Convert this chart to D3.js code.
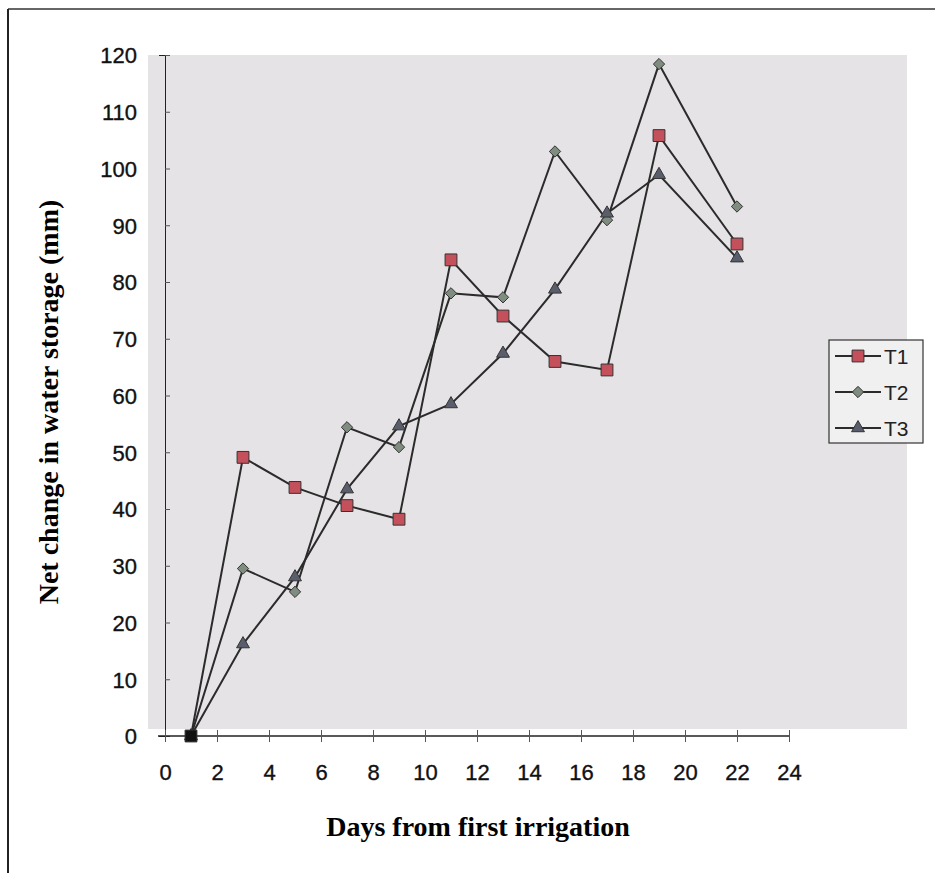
<!DOCTYPE html>
<html>
<head>
<meta charset="utf-8">
<script src="https://cdn.jsdelivr.net/npm/d3@7"></script>
<style>
  body { margin: 0; background: #fff; }
  .tick text { font-family: "Liberation Sans", Arial, sans-serif; font-size: 22px; fill: #111; stroke: #111; stroke-width: 0.35px; }
</style>
</head>
<body>
<div id="chart"></div>
<script>
// values
var days = [1, 3, 5, 7, 9, 11, 13, 15, 17, 19, 22];
var t1 = [0, 49.1, 43.8, 40.6, 38.2, 83.9, 74.0, 66.0, 64.5, 105.8, 86.7];
var t2 = [0, 29.5, 25.4, 54.4, 50.9, 78.0, 77.3, 103.0, 90.9, 118.4, 93.3];
var t3 = [0, 16.2, 28.0, 43.5, 54.6, 58.5, 67.4, 78.7, 92.1, 98.9, 84.2];
var seriesNames = ["T1", "T2", "T3"];
var xTicks = [0, 2, 4, 6, 8, 10, 12, 14, 16, 18, 20, 22, 24];
var yTicks = [0, 10, 20, 30, 40, 50, 60, 70, 80, 90, 100, 110, 120];

var W = 935, H = 873;

var svg = d3.select("#chart").append("svg")
    .attr("width", W)
    .attr("height", H);

// outer frame (only top and left edges show)
svg.append("line").attr("x1", 8).attr("x2", W).attr("y1", 9).attr("y2", 9)
    .attr("stroke", "#333").attr("stroke-width", 1.5);
svg.append("line").attr("x1", 8).attr("x2", 8).attr("y1", 9).attr("y2", H)
    .attr("stroke", "#222").attr("stroke-width", 2);

var x = d3.scaleLinear().domain([0, 24]).range([165, 789]);
var y = d3.scaleLinear().domain([0, 120]).range([736, 55]);

// plot area background
svg.append("rect")
    .attr("x", 148).attr("y", 55)
    .attr("width", 907 - 148).attr("height", 729 - 55)
    .attr("fill", "#e5e3e5");

// y axis
var yAxis = svg.append("g")
    .attr("transform", "translate(" + x(0) + ",0)")
    .call(d3.axisLeft(y).tickValues(yTicks).tickSize(6).tickPadding(22));
yAxis.selectAll(".tick line").attr("x2", 5).attr("stroke", "#555");
yAxis.select(".domain").attr("stroke", "#222");
yAxis.selectAll(".tick text").attr("dy", "0.36em");

// x axis
var xAxis = svg.append("g")
    .attr("transform", "translate(0," + y(0) + ")")
    .call(d3.axisBottom(x).tickValues(xTicks).tickSize(6).tickPadding(22));
xAxis.selectAll(".tick line").attr("y1", -6).attr("stroke", "#555");
xAxis.select(".domain").attr("d", "M" + (x(0) - 7) + ",0H" + x(24)).attr("stroke", "#222").attr("stroke-width", 1.5);

// axis titles
svg.append("text")
    .attr("x", 478).attr("y", 836)
    .attr("text-anchor", "middle")
    .style("font-family", "'Liberation Serif', 'Times New Roman', serif")
    .style("font-weight", "bold")
    .style("font-size", "28px")
    .text("Days from first irrigation");

svg.append("text")
    .attr("transform", "translate(58,402) rotate(-90)")
    .attr("text-anchor", "middle")
    .style("font-family", "'Liberation Serif', 'Times New Roman', serif")
    .style("font-weight", "bold")
    .style("font-size", "28px")
    .text("Net change in water storage (mm)");

// a diamond drawn as a square turned 45 degrees, as in the original
var diamond = {
  draw: function (ctx, size) {
    var r = Math.sqrt(size / 2);
    ctx.moveTo(0, -r); ctx.lineTo(r, 0); ctx.lineTo(0, r); ctx.lineTo(-r, 0); ctx.closePath();
  }
};

var series = [
  { name: seriesNames[0], values: t1, shape: d3.symbolSquare, size: 140, fill: "#c4505c" },
  { name: seriesNames[1], values: t2, shape: diamond, size: 64, fill: "#7f8c80" },
  { name: seriesNames[2], values: t3, shape: d3.symbolTriangle, size: 72, fill: "#5a5e6c" }
];

var line = d3.line()
    .x(function (d) { return x(d.day); })
    .y(function (d) { return y(d.v); });

series.forEach(function (s) {
  s.points = days.map(function (d, i) { return { day: d, v: s.values[i] }; });
  svg.append("path")
      .datum(s.points)
      .attr("fill", "none")
      .attr("stroke", "#2b2b2b")
      .attr("stroke-width", 2)
      .attr("d", line);
});

// T1 markers go last so its dark square sits on top at the origin
[series[1], series[2], series[0]].forEach(function (s) {
  svg.selectAll(".pt-" + s.name)
      .data(s.points)
      .enter().append("path")
        .attr("class", "pt-" + s.name)
        .attr("transform", function (d) { return "translate(" + x(d.day) + "," + y(d.v) + ")"; })
        .attr("d", d3.symbol().type(s.shape).size(s.size))
        .attr("fill", function (d) { return d.v === 0 ? "#111" : s.fill; })
        .attr("stroke", "#333")
        .attr("stroke-width", 1);
});

// legend
var legend = svg.append("g").attr("transform", "translate(829,340)");
legend.append("rect")
    .attr("width", 94).attr("height", 103)
    .attr("fill", "#f1f0f1")
    .attr("stroke", "#333").attr("stroke-width", 1.2);

var item = legend.selectAll(".item")
    .data(series)
    .enter().append("g")
      .attr("class", "item")
      .attr("transform", function (d, i) { return "translate(0," + (16 + i * 36) + ")"; });

item.append("line")
    .attr("x1", 6).attr("x2", 52)
    .attr("stroke", "#2b2b2b").attr("stroke-width", 2);
item.append("path")
    .attr("transform", "translate(29,0)")
    .attr("d", function (d) { return d3.symbol().type(d.shape).size(d.size)(); })
    .attr("fill", function (d) { return d.fill; })
    .attr("stroke", "#333");
item.append("text")
    .attr("x", 55).attr("dy", "0.36em")
    .style("font-family", "'Liberation Sans', Arial, sans-serif")
    .style("font-size", "21px")
    .style("fill", "#222")
    .text(function (d) { return d.name; });
</script>
</body>
</html>
